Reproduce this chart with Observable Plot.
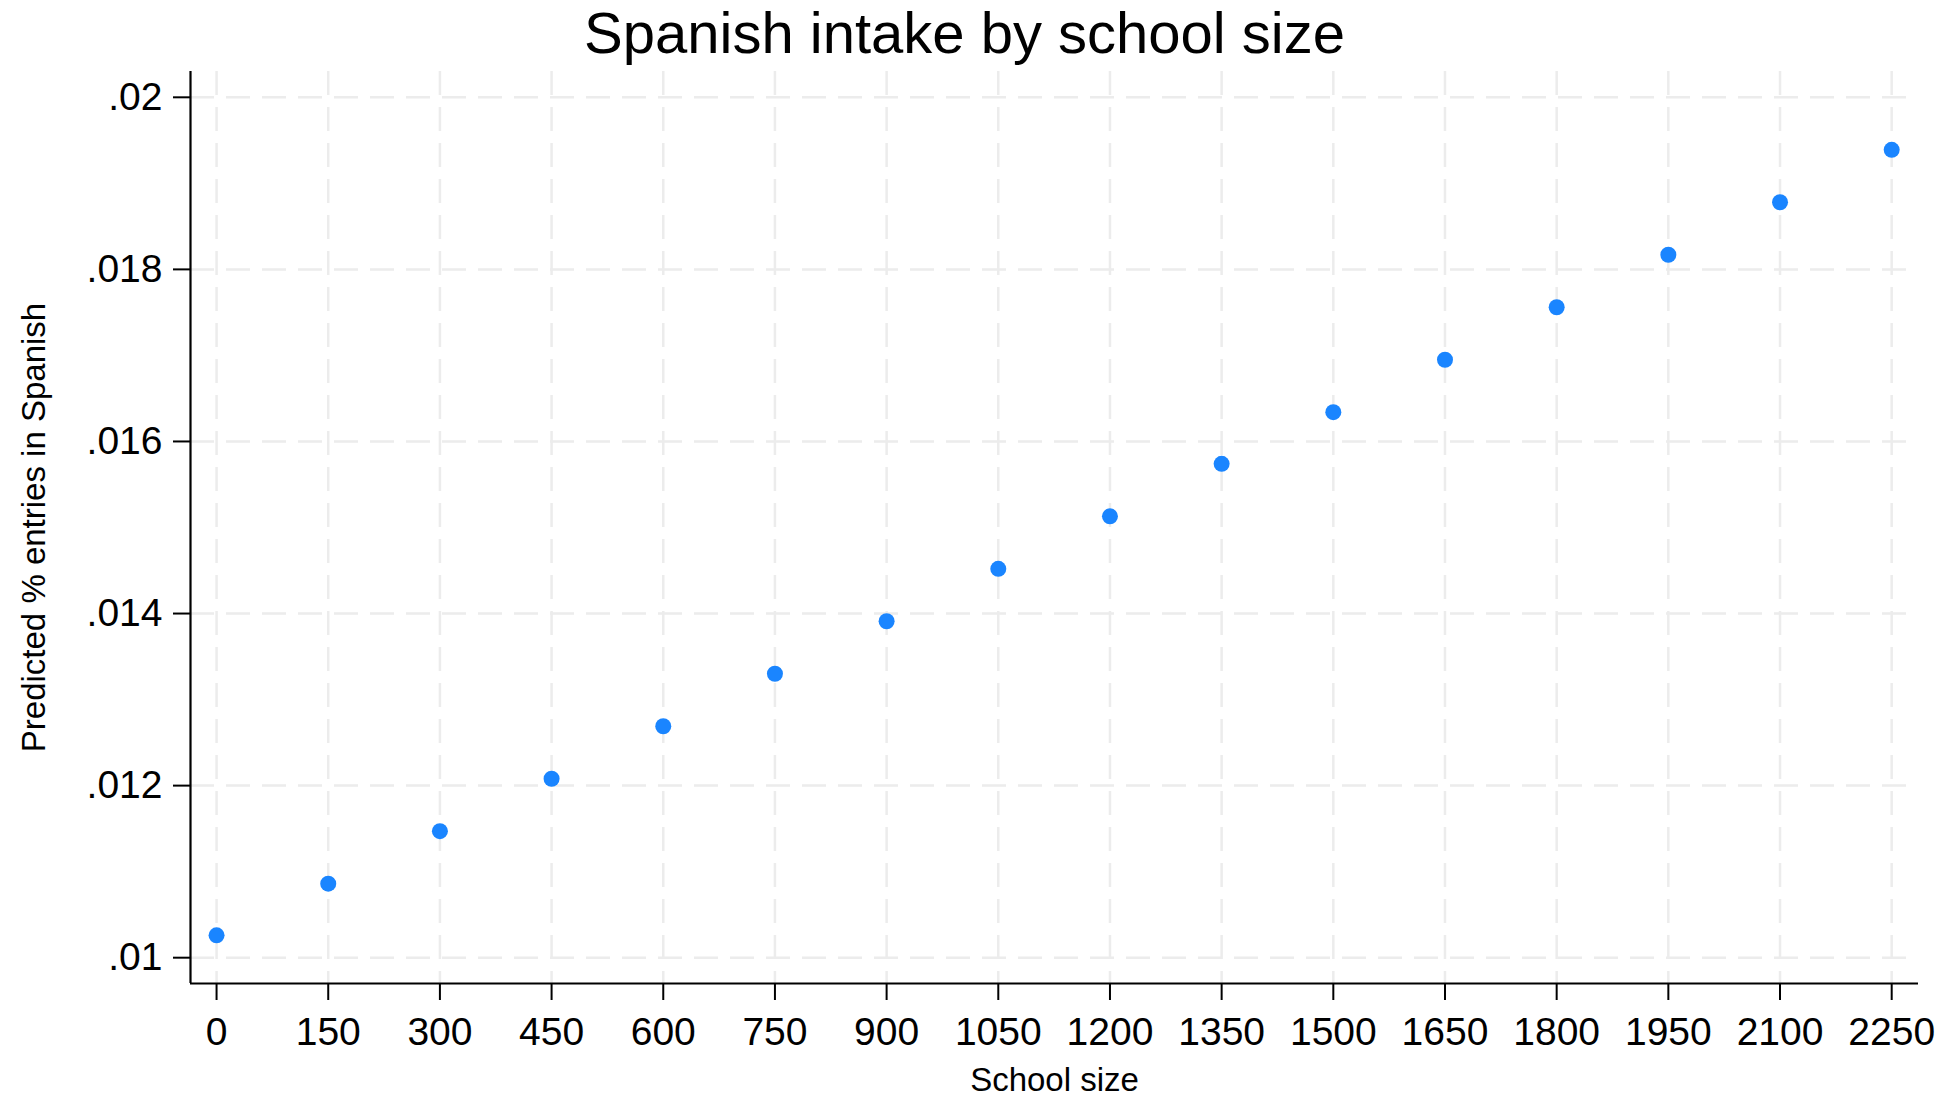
<!DOCTYPE html>
<html><head><meta charset="utf-8">
<script src="https://cdn.jsdelivr.net/npm/d3@7"></script>
<script src="https://cdn.jsdelivr.net/npm/@observablehq/plot@0.6"></script>
<style>
body{margin:0;background:#fff;font-family:"Liberation Sans",Arial,Helvetica,sans-serif;}
#title{height:66px;line-height:66px;font-size:58px;text-align:center;color:#000;width:1929px;white-space:nowrap;}
#chart svg{display:block;}
</style></head><body>
<div id="title">Spanish intake by school size</div>
<div id="chart"></div>
<script>
// Data
const schoolSize = [0, 150, 300, 450, 600, 750, 900, 1050, 1200, 1350, 1500, 1650, 1800, 1950, 2100, 2250];
const predictedSpanish = [0.01026, 0.01086, 0.01147, 0.01208, 0.01269, 0.01330, 0.01391, 0.01452, 0.01513, 0.01574, 0.01634, 0.01695, 0.01756, 0.01817, 0.01878, 0.01939];
const xTicks = [0, 150, 300, 450, 600, 750, 900, 1050, 1200, 1350, 1500, 1650, 1800, 1950, 2100, 2250];
const yTicks = [0.010, 0.012, 0.014, 0.016, 0.018, 0.020];
const yTickLabels = [".01", ".012", ".014", ".016", ".018", ".02"];
const xTitle = "School size";
const yTitle = "Predicted % entries in Spanish";
const xDomain = [-35, 2286];
const yDomain = [0.0097, 0.0203];

const points = schoolSize.map((s, i) => ({size: s, value: predictedSpanish[i]}));
const yLabelOf = new Map(yTicks.map((t, i) => [t, yTickLabels[i]]));

const chart = Plot.plot({
  width: 1951,
  height: 1031,
  marginTop: 5,
  marginBottom: 114,
  marginLeft: 190,
  marginRight: 33,
  style: {fontFamily: '"Liberation Sans", Arial, Helvetica, sans-serif', fontSize: "39px", color: "#000", background: "#fff", overflow: "visible"},
  x: {domain: xDomain},
  y: {domain: yDomain},
  marks: [
    Plot.ruleX(xTicks, {stroke: "#ececec", strokeWidth: 2.5, strokeDasharray: "24,12"}),
    Plot.ruleY(yTicks, {stroke: "#ececec", strokeWidth: 2.5, strokeDasharray: "24,12"}),
    Plot.ruleX([xDomain[0]], {stroke: "#000", strokeWidth: 2.2}),
    Plot.ruleY([yDomain[0]], {stroke: "#000", strokeWidth: 2.2}),
    Plot.axisX(xTicks, {tickSize: 17, tickPadding: 17, strokeWidth: 2, stroke: "#000", fill: "#000", fontSize: 39, label: null, tickFormat: d => String(d)}),
    Plot.axisY(yTicks, {tickSize: 17, tickPadding: 11, strokeWidth: 2, stroke: "#000", fill: "#000", fontSize: 39, label: null, tickFormat: d => yLabelOf.get(d)}),
    Plot.dot(points, {x: "size", y: "value", r: 8, fill: "#1a85ff", stroke: "none"}),
    Plot.text([xTitle], {text: d => d, frameAnchor: "bottom", dy: 107, textAnchor: "middle", lineAnchor: "bottom", fontSize: 33, fill: "#000"}),
    Plot.text([yTitle], {text: d => d, frameAnchor: "left", dx: -146, rotate: -90, textAnchor: "middle", lineAnchor: "bottom", fontSize: 33, fill: "#000"})
  ]
});
document.getElementById("chart").appendChild(chart);
</script>
</body></html>
